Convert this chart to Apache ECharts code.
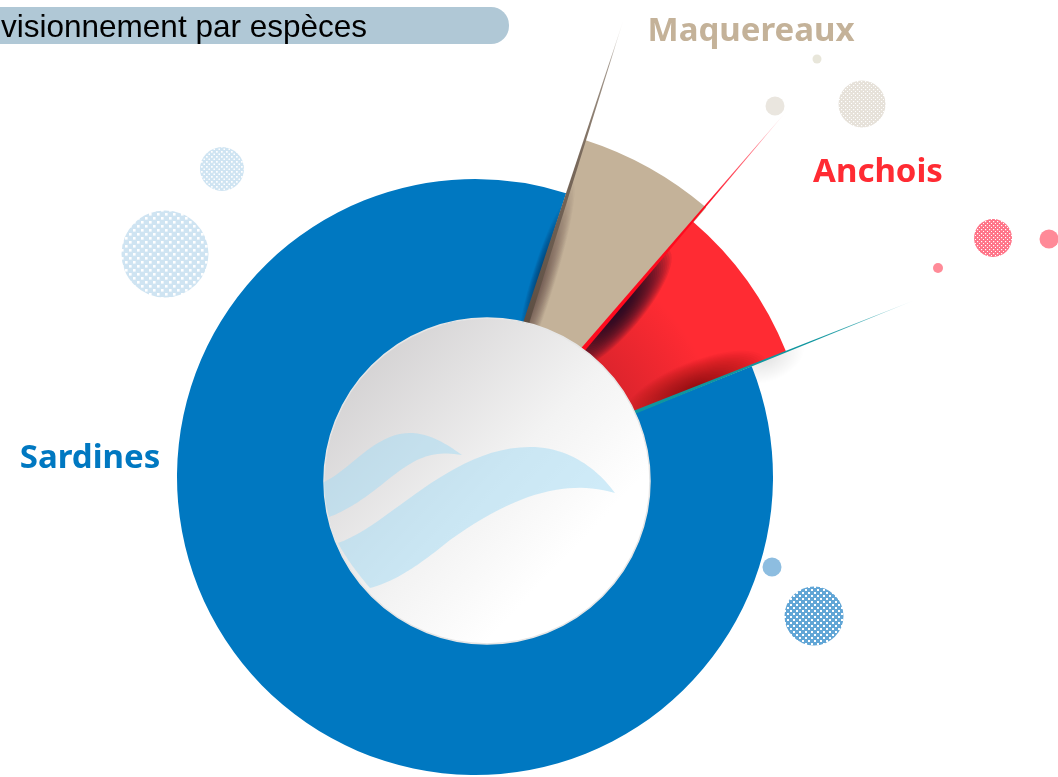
<!DOCTYPE html>
<html><head><meta charset="utf-8">
<style>html,body{margin:0;padding:0;background:#fff;overflow:hidden}#c{width:1058px;height:777px}</style>
<script src="https://cdn.jsdelivr.net/npm/echarts@6/dist/echarts.min.js"></script>
</head><body><div id="c"></div>
<script>
const titleText = 'Approvisionnement par espèces';
const categories = ['Maquereaux', 'Anchois', 'Sardines'];
const shares = [6.3, 7.7, 86];
const colors = ['#c4b299', '#ff2b33', '#0078c1'];
const outerRadii = [353, 335, 298];
const firstEdgeDeg = 17.8; // clockwise from north

const total = shares.reduce((a, b) => a + b, 0);
const edges = [firstEdgeDeg];
shares.forEach((s, i) => edges.push(edges[i] + s / total * 360));
const cx = 475, cy = 476;
const centers = [[477, 476], [475, 476], [475, 477]];
const rad = d => d * Math.PI / 180;
const ptAt = (c, r, d) => [c[0] + r * Math.sin(rad(d)), c[1] - r * Math.cos(rad(d))];
const normal = d => [Math.cos(rad(d)), Math.sin(rad(d))]; // clockwise side

const chart = echarts.init(document.getElementById('c'), null, {renderer: 'canvas'});

const series = categories.map((name, i) => ({
  type: 'pie', name, silent: true, animation: false, z: i === 2 ? 2 : 3,
  center: centers[i], radius: [100, outerRadii[i]],
  startAngle: 90 - firstEdgeDeg, clockwise: true,
  label: {show: false}, labelLine: {show: false},
  data: categories.map((n, j) => ({
    name: n, value: shares[j],
    itemStyle: {color: j === i ? colors[j] : 'rgba(0,0,0,0)'}
  }))
}));

const g = [];
function spike(c, d, w, r0, r1, stops) {
  const a = ptAt(c, r0, d), b = ptAt(c, r1, d), n = normal(d);
  g.push({type: 'polygon', z: 5, silent: true,
    shape: {points: [[a[0] + n[0] * w / 2, a[1] + n[1] * w / 2], [a[0] - n[0] * w / 2, a[1] - n[1] * w / 2], b]},
    style: {fill: {type: 'linear', global: true, x: a[0], y: a[1], x2: b[0], y2: b[1],
      colorStops: stops.map(s => ({offset: s[0], color: s[1]}))}}});
}
// soft half-elliptical shadow against a radial edge, built from nested translucent layers
function soft(c, d, side, rc, L, w, rgb, A, z) {
  const N = 26, a = 1 - Math.pow(1 - A, 1 / N);
  const n = normal(d).map(v => v * side), u = [Math.sin(rad(d)), -Math.cos(rad(d))];
  const m = ptAt(c, rc, d);
  for (let k = 1; k <= N; k++) {
    const f = k / N, points = [];
    for (let j = 0; j <= 28; j++) {
      const t = Math.PI * j / 28, along = -Math.cos(t) * L * f, off = Math.sin(t) * w * f;
      points.push([m[0] + u[0] * along + n[0] * off, m[1] + u[1] * along + n[1] * off]);
    }
    g.push({type: 'polygon', z: z || 4, silent: true, shape: {points}, style: {fill: `rgba(${rgb},${a})`}});
  }
}
// shading inside the sectors
g.push({type: 'sector', z: 4, silent: true,
  shape: {cx, cy, r0: 150, r: 255, startAngle: rad(edges[1] - 90), endAngle: rad(edges[2] - 90), clockwise: true},
  style: {fill: {type: 'radial', global: true, x: cx, y: cy, r: 255,
    colorStops: [{offset: 0.6, color: 'rgba(90,10,20,0.24)'}, {offset: 1, color: 'rgba(90,10,20,0)'}]}}});
soft(centers[1], edges[1], 1, 220, 78, 24, '18,12,36', 0.9);
soft(centers[1], edges[2], -1, 238, 75, 26, '60,8,12', 0.5);
soft(centers[0], edges[0], 1, 195, 115, 15, '70,55,45', 0.65);
soft(centers[0], edges[0], -1, 215, 70, 9, '0,25,60', 0.55);
soft(centers[1], edges[2], 1, 315, 38, 22, '90,80,80', 0.2, 1);

spike(centers[0], edges[0], 6, 160, 480, [[0, '#5c4d42'], [0.55, '#7a6a5c'], [0.85, 'rgba(130,115,100,0.75)'], [1, 'rgba(160,150,140,0)']]);
spike(centers[1], edges[1], 4.5, 160, 482, [[0, '#ff0a1e'], [0.6, '#ff0a1e'], [0.85, 'rgba(255,60,80,0.7)'], [1, 'rgba(255,120,140,0)']]);
spike(centers[1], edges[2], 3.5, 160, 476, [[0, '#0f969f'], [0.65, '#0f969f'], [0.85, 'rgba(15,150,160,0.65)'], [1, 'rgba(15,150,160,0)']]);

// centre disc and waves
g.push({type: 'circle', z: 6, silent: true, shape: {cx: 487, cy: 481, r: 163},
  style: {stroke: '#e6e6e6', lineWidth: 1.5,
    fill: {type: 'linear', x: 0.08, y: 0.12, x2: 0.85, y2: 0.85,
      colorStops: [{offset: 0, color: '#d2d0d1'}, {offset: 0.55, color: '#f3f3f3'}, {offset: 0.85, color: '#ffffff'}, {offset: 1, color: '#ffffff'}]}}});
function curve(start, segs) {
  const out = [start]; let p = start;
  segs.forEach(s => {
    for (let k = 1; k <= 24; k++) {
      const t = k / 24, u = 1 - t;
      out.push([0, 1].map(i => u*u*u*p[i] + 3*u*u*t*s[0][i] + 3*u*t*t*s[1][i] + t*t*t*s[2][i]));
    }
    p = s[2];
  });
  return out;
}
const waveFill = 'rgba(165,218,243,0.52)';
const bigWave = curve([338,543], [[[390,525],[450,447],[530,447]], [[570,447],[598,470],[615,493]], [[570,480],[520,490],[450,540]], [[425,560],[400,580],[370,588]], [[358,574],[346,558],[338,543]]]);
const smallWave = curve([324,482], [[[350,470],[375,433],[410,433]], [[430,433],[448,445],[462,455]], [[430,450],[415,458],[385,482]], [[365,498],[348,510],[329,517]], [[326,506],[324,494],[324,482]]]);
[bigWave, smallWave].forEach(points => g.push({type: 'polygon', z: 7, silent: true, shape: {points}, style: {fill: waveFill}}));

// decorative dots
function pattern(bg, cell, dot) {
  const c = document.createElement('canvas'); c.width = c.height = cell;
  const x = c.getContext('2d');
  x.fillStyle = bg; x.fillRect(0, 0, cell, cell);
  x.fillStyle = '#fff';
  x.fillRect(1, 1, dot, dot);
  x.fillRect(1 + cell / 2, 1 + cell / 2, dot, dot);
  return {image: c, repeat: 'repeat'};
}
const dots = [
  [165, 254, 43.5, pattern('#cfe4f2', 8, 2.6)], [222, 169, 22, pattern('#cfe4f2', 5, 1.7)],
  [814, 616, 29.5, pattern('#62a6d6', 6, 2)], [772, 567, 9.5, '#8dbde0'],
  [862, 104, 23.5, pattern('#e6e1d9', 4, 1.2)], [775, 106, 9.5, '#eae6df'], [817, 59, 4.5, '#e8e6da'],
  [993, 238, 19, pattern('#ff7488', 4, 1.2)], [1049, 239, 9.5, '#ff8a98'], [938, 268, 5, '#ff8b98']
];
dots.forEach(d => g.push({type: 'circle', z: 1, silent: true, shape: {cx: d[0], cy: d[1], r: d[2]}, style: {fill: d[3]}}));

// title band
g.push({type: 'rect', z: 8, silent: true, shape: {x: -30, y: 7, width: 539, height: 37, r: 18}, style: {fill: '#b0c8d6'}});
g.push({type: 'text', z: 9, silent: true, style: {text: titleText, x: 367, y: 28, align: 'right', verticalAlign: 'middle', fill: '#000', font: '31.5px "Liberation Sans", sans-serif'}});

// category labels
const labelPos = [[751, 32], [878, 173], [90, 459]];
categories.forEach((n, i) => g.push({type: 'text', z: 9, silent: true, style: {text: n, x: labelPos[i][0], y: labelPos[i][1], align: 'center', verticalAlign: 'middle', fill: colors[i], font: '700 33px "Noto Sans", sans-serif'}}));

chart.setOption({animation: false, backgroundColor: '#fff', series, graphic: {elements: g}});
</script></body></html>
